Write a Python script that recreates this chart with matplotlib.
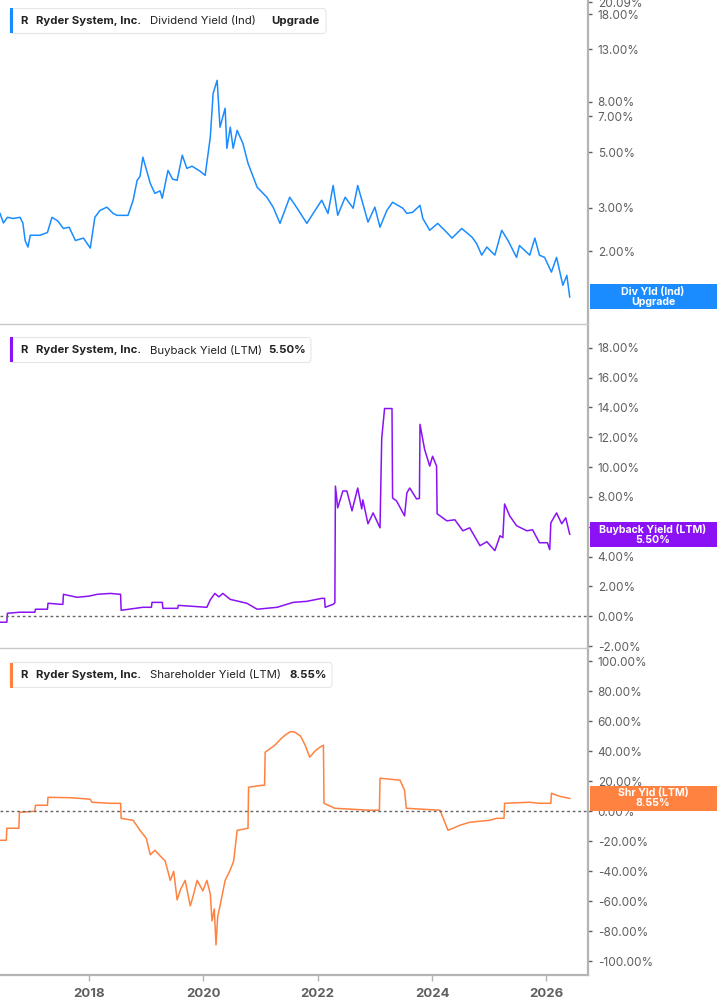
import matplotlib
matplotlib.use("Agg")
import matplotlib.pyplot as plt
from matplotlib.patches import FancyBboxPatch, Rectangle
from matplotlib.lines import Line2D

plt.rcParams['font.family'] = ['Inter', 'DejaVu Sans']

W, H = 717, 1005

# --- data (decimal year, percent) ---
div_t = [2016.44, 2016.50, 2016.57, 2016.67, 2016.79, 2016.84, 2016.88, 2016.93, 2016.97, 2017.14,
         2017.27, 2017.35, 2017.45, 2017.55, 2017.65, 2017.76, 2017.90, 2018.02, 2018.10, 2018.19,
         2018.31, 2018.42, 2018.49, 2018.68, 2018.77, 2018.84, 2018.89, 2018.94, 2019.07, 2019.15,
         2019.24, 2019.28, 2019.38, 2019.46, 2019.54, 2019.63, 2019.71, 2019.80, 2019.94, 2020.03,
         2020.12, 2020.17, 2020.24, 2020.29, 2020.38, 2020.41, 2020.47, 2020.52, 2020.59, 2020.69,
         2020.78, 2020.94, 2021.11, 2021.22, 2021.34, 2021.51, 2021.64, 2021.81, 2021.92, 2022.07,
         2022.18, 2022.27, 2022.35, 2022.48, 2022.62, 2022.70, 2022.88, 2023.00, 2023.09, 2023.21,
         2023.31, 2023.49, 2023.56, 2023.66, 2023.79, 2023.84, 2023.96, 2024.10, 2024.26, 2024.35,
         2024.52, 2024.70, 2024.78, 2024.87, 2024.96, 2025.10, 2025.22, 2025.33, 2025.48, 2025.53,
         2025.71, 2025.80, 2025.88, 2025.97, 2026.09, 2026.18, 2026.29, 2026.36, 2026.41]
div_v = [2.84, 2.60, 2.74, 2.71, 2.74, 2.60, 2.21, 2.08, 2.32, 2.32,
         2.38, 2.74, 2.65, 2.47, 2.50, 2.21, 2.26, 2.06, 2.74, 2.92,
         3.01, 2.84, 2.79, 2.79, 3.21, 3.86, 4.00, 4.78, 3.75, 3.42,
         3.50, 3.27, 4.23, 3.90, 3.86, 4.87, 4.31, 4.40, 4.20, 4.04,
         5.75, 8.64, 9.74, 6.31, 7.52, 5.19, 6.31, 5.19, 6.13, 5.44,
         4.52, 3.62, 3.30, 3.01, 2.59, 3.30, 2.98, 2.59, 2.84, 3.21,
         2.84, 3.68, 2.79, 3.30, 2.98, 3.68, 2.62, 3.01, 2.50, 2.92,
         3.15, 2.98, 2.84, 2.87, 3.06, 2.71, 2.43, 2.59, 2.38, 2.26,
         2.47, 2.28, 2.15, 1.93, 2.08, 1.93, 2.43, 2.21, 1.89, 2.11,
         1.93, 2.26, 1.93, 1.89, 1.65, 1.89, 1.46, 1.60, 1.31]

bb_t = [2016.44, 2016.56, 2016.57, 2016.79, 2017.05, 2017.06, 2017.27, 2017.28, 2017.50, 2017.54,
        2017.55, 2017.79, 2018.00, 2018.14, 2018.37, 2018.55, 2018.56, 2018.94, 2019.09, 2019.10,
        2019.28, 2019.29, 2019.55, 2019.56, 2020.06, 2020.12, 2020.20, 2020.27, 2020.34, 2020.47,
        2020.76, 2020.94, 2021.29, 2021.57, 2021.81, 2022.07, 2022.12, 2022.13, 2022.27, 2022.30,
        2022.31, 2022.35, 2022.44, 2022.51, 2022.60, 2022.70, 2022.77, 2022.79, 2022.88, 2022.97,
        2023.09, 2023.12, 2023.17, 2023.30, 2023.31, 2023.38, 2023.52, 2023.56, 2023.61, 2023.73,
        2023.78, 2023.79, 2023.87, 2023.96, 2024.01, 2024.08, 2024.09, 2024.26, 2024.40, 2024.54,
        2024.66, 2024.84, 2024.96, 2025.10, 2025.19, 2025.24, 2025.27, 2025.36, 2025.48, 2025.66,
        2025.76, 2025.88, 2026.02, 2026.06, 2026.08, 2026.18, 2026.27, 2026.34, 2026.41]
bb_v = [-0.40, -0.40, 0.20, 0.27, 0.27, 0.47, 0.47, 0.87, 0.80, 0.80,
        1.47, 1.27, 1.35, 1.47, 1.53, 1.47, 0.40, 0.60, 0.60, 0.93,
        0.93, 0.53, 0.53, 0.73, 0.60, 1.10, 1.53, 1.30, 1.53, 1.13,
        0.87, 0.47, 0.60, 0.93, 1.00, 1.20, 1.20, 0.60, 0.80, 0.90,
        8.73, 7.27, 8.40, 8.40, 7.07, 8.60, 7.20, 7.80, 6.20, 6.93,
        5.93, 11.93, 13.93, 13.93, 7.93, 7.73, 6.73, 8.27, 8.60, 7.87,
        7.90, 12.87, 11.20, 10.07, 10.73, 10.07, 6.87, 6.40, 6.47, 5.73,
        5.93, 4.73, 5.00, 4.40, 5.40, 5.27, 7.53, 6.73, 6.07, 5.73,
        5.80, 4.93, 4.93, 4.47, 6.27, 6.93, 6.20, 6.60, 5.50]

sh_t = [2016.44, 2016.55, 2016.56, 2016.77, 2016.78, 2017.05, 2017.06, 2017.27, 2017.28, 2017.70,
        2018.02, 2018.05, 2018.37, 2018.55, 2018.56, 2018.77, 2018.89, 2019.00, 2019.07, 2019.15,
        2019.25, 2019.33, 2019.42, 2019.48, 2019.54, 2019.60, 2019.68, 2019.77, 2019.83, 2019.89,
        2019.99, 2020.06, 2020.12, 2020.15, 2020.19, 2020.22, 2020.25, 2020.29, 2020.38, 2020.47,
        2020.53, 2020.59, 2020.78, 2020.79, 2021.02, 2021.07, 2021.08, 2021.25, 2021.35, 2021.43,
        2021.52, 2021.60, 2021.70, 2021.78, 2021.86, 2021.95, 2022.04, 2022.10, 2022.11, 2022.30,
        2022.91, 2023.08, 2023.09, 2023.44, 2023.52, 2023.55, 2024.14, 2024.20, 2024.28, 2024.49,
        2024.66, 2025.01, 2025.13, 2025.26, 2025.27, 2025.71, 2025.88, 2026.08, 2026.09, 2026.23,
        2026.41]
sh_v = [-19.3, -19.3, -11.3, -11.3, -0.7, 0.0, 4.0, 4.0, 9.3, 9.0,
        8.0, 6.0, 5.3, 5.3, -4.7, -6.0, -12.7, -18.0, -29.0, -26.0,
        -30.0, -33.0, -46.0, -40.0, -59.0, -52.0, -46.0, -63.0, -55.0, -46.0,
        -53.0, -46.0, -55.0, -73.0, -65.0, -89.0, -70.0, -63.0, -46.0, -39.0,
        -33.0, -12.7, -11.3, 16.0, 17.3, 17.3, 39.3, 44.0, 48.0, 50.7,
        53.0, 52.7, 50.0, 44.0, 36.0, 40.0, 42.7, 44.0, 5.3, 2.0,
        0.7, 0.7, 22.0, 20.7, 14.0, 2.0, 0.7, -5.0, -12.7, -9.3,
        -7.3, -6.0, -4.7, -4.7, 5.3, 6.0, 5.3, 5.3, 12.0, 10.0,
        8.55]

year_ticks = [2018, 2020, 2022, 2024, 2026]
div_ticks = [2, 3, 5, 7, 8, 13, 18, 20.09]
bb_ticks = list(range(-2, 19, 2))
sh_ticks = list(range(-100, 101, 20))

blue = '#1a8cff'
purple = '#8a12f5'
orange = '#ff8240'
tick_col = '#5f5f5f'
spine_col = '#b4b4b4'


def fx(x):
    return x / W


def fy(y):
    return 1 - y / H


fig = plt.figure(figsize=(W / 100, H / 100), dpi=100)

right = 588
panels = [(0, 324), (324, 648), (648, 975)]
axes = []
for top, bot in panels:
    ax = fig.add_axes([0, fy(bot), fx(right), (bot - top) / H])
    axes.append(ax)

ax1, ax2, ax3 = axes

ax1.plot(div_t, div_v, color=blue, lw=1.1)
ax1.set_yscale('log')
ax1.set_ylim(1.02, 20.5)
ax1.set_yticks(div_ticks)
ax1.set_yticklabels([f"{v:.2f}%" for v in div_ticks])
ax1.yaxis.set_minor_locator(plt.NullLocator())

ax2.plot(bb_t, bb_v, color=purple, lw=1.1)
ax2.set_ylim(-2.13, 19.6)
ax2.set_yticks(bb_ticks)
ax2.set_yticklabels([f"{v:.2f}%" for v in bb_ticks])
ax2.axhline(0, color='#666666', lw=1, ls=(0, (2, 2)))

ax3.plot(sh_t, sh_v, color=orange, lw=1.1)
ax3.set_ylim(-109, 108.7)
ax3.set_yticks(sh_ticks)
ax3.set_yticklabels([f"{v:.2f}%" for v in sh_ticks])
ax3.axhline(0, color='#666666', lw=1, ls=(0, (2, 2)))

for ax in axes:
    ax.set_xlim(2016.44, 2026.73)
    for s in ['top', 'left', 'bottom']:
        ax.spines[s].set_visible(False)
    ax.spines['right'].set_color(spine_col)
    ax.spines['right'].set_linewidth(1.6)
    ax.yaxis.tick_right()
    ax.tick_params(axis='y', direction='out', length=3, width=1, color=tick_col,
                   labelcolor=tick_col, labelsize=8.5, pad=4)
    ax.set_xticks([])

ax3.spines['bottom'].set_visible(True)
ax3.spines['bottom'].set_color(spine_col)
ax3.spines['bottom'].set_linewidth(1.6)
ax3.set_xticks(year_ticks)
ax3.set_xticklabels([str(y) for y in year_ticks])
ax3.tick_params(axis='x', direction='out', length=4, width=1, color=spine_col,
                labelcolor=tick_col, labelsize=9.5, pad=5)
for lbl in ax3.get_xticklabels():
    lbl.set_fontweight('bold')

# panel separators
for y in (324, 648):
    fig.add_artist(Line2D([0, fx(right)], [fy(y), fy(y)], color='#c8c8c8', lw=1.0))

# legend boxes top-left
legends = [
    (21, 326, blue, "Dividend Yield (Ind)", "Upgrade", 271),
    (350, 311, purple, "Buyback Yield (LTM)", "5.50%", 268),
    (675, 332, orange, "Shareholder Yield (LTM)", "8.55%", 289),
]
for yc, xr, col, name, val, xval in legends:
    box = FancyBboxPatch((fx(10), fy(yc + 12.5)), fx(xr - 10), 25 / H,
                         boxstyle="round,pad=0,rounding_size=0.004",
                         transform=fig.transFigure, facecolor='white',
                         edgecolor='#e6e6e6', lw=0.8)
    fig.add_artist(box)
    fig.add_artist(Rectangle((fx(10), fy(yc + 12.5)), fx(3), 25 / H,
                             transform=fig.transFigure, facecolor=col, edgecolor='none'))
    kw = dict(va='center', ha='left', fontsize=8.2, color='#222222')
    fig.text(fx(20), fy(yc), "R", fontweight='bold', **kw)
    fig.text(fx(36), fy(yc), "Ryder System, Inc.", fontweight='bold', **kw)
    fig.text(fx(150), fy(yc), name, **kw)
    fig.text(fx(xval), fy(yc), val, fontweight='bold', **kw)

# value tags on the right at the last value
tags = [
    (ax1, div_t[-1], div_v[-1], blue, "Div Yld (Ind)\nUpgrade"),
    (ax2, bb_t[-1], bb_v[-1], purple, "Buyback Yield (LTM)\n5.50%"),
    (ax3, sh_t[-1], sh_v[-1], orange, "Shr Yld (LTM)\n8.55%"),
]
for ax, t, v, col, txt in tags:
    ydisp = ax.transData.transform((t, v))[1]
    ypx = H - ydisp
    fig.add_artist(Rectangle((fx(590), fy(ypx + 12.5)), fx(W - 590), 25 / H,
                             transform=fig.transFigure, facecolor=col, edgecolor='none',
                             zorder=5))
    fig.text(fx(653), fy(ypx), txt, ha='center', va='center', color='white',
             fontsize=7.6, fontweight='bold', linespacing=1.0, zorder=6)

fig.savefig("out.png", dpi=100)
